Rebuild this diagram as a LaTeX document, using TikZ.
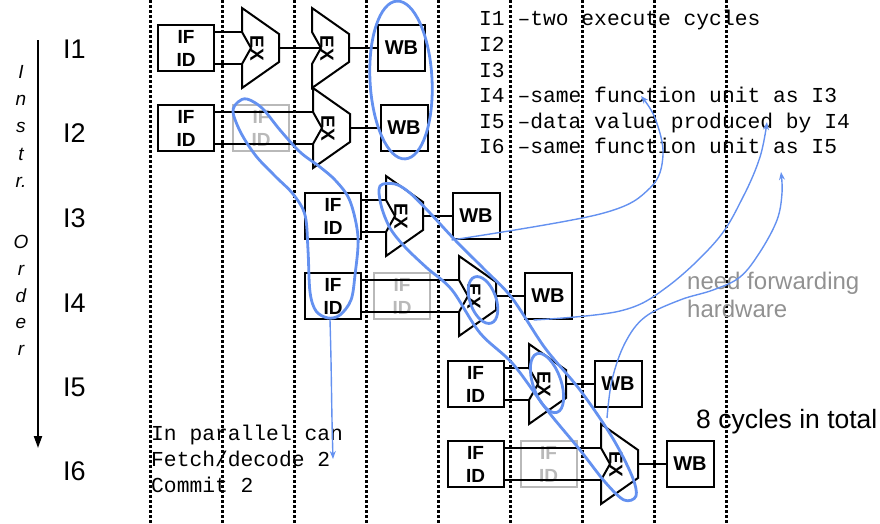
\documentclass[tikz,border=0pt]{standalone}
\usepackage{fontspec}
\setmainfont{Liberation Sans}
\setmonofont{Liberation Mono}
\usetikzlibrary{arrows.meta}
\definecolor{penblue}{RGB}{100,145,240}
\definecolor{ghostgray}{RGB}{185,185,185}
\definecolor{notegray}{RGB}{145,145,145}
\tikzset{
  stage/.style={draw, line width=2pt, minimum height=46pt, inner sep=0pt, align=center},
  ifid/.style={stage, minimum width=56pt, font=\bfseries\fontsize{19}{23}\selectfont},
  ghostbox/.style={ifid, draw=ghostgray, text=ghostgray},
  wbbox/.style={stage, minimum width=47pt, font=\bfseries\fontsize{20}{22}\selectfont},
  wire/.style={line width=2pt},
  cycleline/.style={line width=3pt, dash pattern=on 2.5pt off 2.5pt},
  rowlabel/.style={anchor=base west, inner sep=0pt, font=\fontsize{27}{27}\selectfont},
  orderletter/.style={anchor=base, inner sep=0pt, font=\itshape\fontsize{19}{19}\selectfont},
  monotext/.style={anchor=base west, inner sep=0pt, font=\ttfamily\fontsize{21.3}{25}\selectfont},
  sanstext/.style={anchor=base west, inner sep=0pt},
  pen/.style={draw=penblue, line width=2.8pt},
  thinpen/.style={draw=penblue, line width=1.4pt, -{Stealth[length=8pt,width=6pt]}},
  exunit/.pic={
    \draw[line width=2pt, line join=miter]
      (0,-40) -- (37,-14) -- (37,14) -- (0,40) -- (0,16) -- (9,0) -- (0,-16) -- cycle;
    \node[rotate=-90, inner sep=0pt, font=\bfseries\fontsize{19}{19}\selectfont] at (15,0) {EX};
    \coordinate (-in1) at (0,-16);
    \coordinate (-in2) at (0,16);
    \coordinate (-notch) at (9,0);
    \coordinate (-out) at (37,0);
  }
}
\begin{document}
\begin{tikzpicture}[x=1pt, y=-1pt]
\useasboundingbox (0,0) rectangle (880,523);

% clock-cycle boundaries
\foreach \k in {0,...,8}
  \draw[cycleline] (150+72*\k,0) -- (150+72*\k,523);

% instruction order axis
\coordinate (ordtop) at (38,40);
\coordinate (ordend) at (38,448);
\draw[line width=2pt, -{Triangle[length=12pt,width=8pt]}] (ordtop) -- (ordend);
\foreach \ch/\yy in {I/78, n/105, s/132, t/160, r./187, O/248, r/275, d/302, e/328, r/355}
  \node[orderletter] at (21,\yy) {\ch};

% row labels
\node[rowlabel] (lab1) at (63,58) {I1};
\node[rowlabel] (lab2) at (63,142) {I2};
\node[rowlabel] (lab3) at (63,227) {I3};
\node[rowlabel] (lab4) at (63,312) {I4};
\node[rowlabel] (lab5) at (63,396) {I5};
\node[rowlabel] (lab6) at (63,480) {I6};

% pipeline stages
\node[ifid] (ifA) at (186,48) {IF\\ID};
\node[ifid] (ifB) at (186,128) {IF\\ID};
\node[ifid] (ifC) at (333,216) {IF\\ID};
\node[ifid] (ifD) at (333,296) {IF\\ID};
\node[ifid] (ifE) at (475.5,384) {IF\\ID};
\node[ifid] (ifF) at (475.5,464) {IF\\ID};

\node[ghostbox] (gB) at (261,128) {IF\\ID};
\node[ghostbox] (gD) at (402,296) {IF\\ID};
\node[ghostbox] (gF) at (548.5,464) {IF\\ID};

\pic (exA) at (242,48) {exunit};
\pic (exB) at (312,48) {exunit};
\pic (exC) at (313,128) {exunit};
\pic (exD) at (386,216) {exunit};
\pic (exE) at (459,296) {exunit};
\pic (exF) at (529,384) {exunit};
\pic (exG) at (601,464) {exunit};

\node[wbbox] (wbA) at (401.5,48) {WB};
\node[wbbox] (wbB) at (404,128) {WB};
\node[wbbox] (wbC) at (476,216) {WB};
\node[wbbox] (wbD) at (548,296) {WB};
\node[wbbox] (wbE) at (618,384) {WB};
\node[wbbox] (wbF) at (690,464) {WB};

% wiring between stages
\foreach \f/\e in {ifA/exA, ifB/exC, ifC/exD, ifD/exE, ifE/exF, ifF/exG} {
  \draw[wire] (\f.east |- \e-in1) -- (\e-in1);
  \draw[wire] (\f.east |- \e-in2) -- (\e-in2);
}
\draw[wire] (exA-out) -- (exB-notch);
\draw[wire] (exB-out) -- (wbA.west);
\draw[wire] (exC-out) -- (wbB.west);
\draw[wire] (exD-out) -- (wbC.west);
\draw[wire] (exE-out) -- (wbD.west);
\draw[wire] (exF-out) -- (wbE.west);
\draw[wire] (exG-out) -- (wbF.west);

% notes
\node[monotext] (n1) at (479,25) {I1 –two execute cycles};
\node[monotext] (n2) at (479,51) {I2};
\node[monotext] (n3) at (479,77) {I3};
\node[monotext] (n4) at (479,102) {I4 –same function unit as I3};
\node[monotext] (n5) at (479,128) {I5 –data value produced by I4};
\node[monotext] (n6) at (479,153) {I6 –same function unit as I5};

\node[monotext] (p1) at (151,440) {In parallel can};
\node[monotext] (p2) at (151,466) {Fetch/decode 2};
\node[monotext] (p3) at (151,492) {Commit 2};

\node[sanstext, text=notegray, font=\fontsize{24}{24}\selectfont] (fw1) at (687,289) {need forwarding};
\node[sanstext, text=notegray, font=\fontsize{24}{24}\selectfont] (fw2) at (687,317) {hardware};
\node[sanstext, font=\fontsize{26.5}{26.5}\selectfont] (tot) at (696,428) {8 cycles in total};

% hand-drawn marks
\draw[pen, rotate around={3:(401,80)}] (401,80) ellipse [x radius=31pt, y radius=79pt];

\draw[pen] plot[smooth cycle, tension=0.55] coordinates {
  (247,99) (262,108) (280,130) (300,152) (320,167) (336,181) (350,201)
  (358,237) (355,275) (351,300) (340,315) (328,318) (316,311) (310,292)
  (308,250) (305,215) (293,194) (275,176) (256,156) (241,133) (233,112) (238,102)};

\draw[pen] plot[smooth cycle, tension=0.55] coordinates {
  (380,186) (395,184) (410,193) (430,213) (455,240) (485,270) (512,298)
  (545,348) (580,390) (612,437) (632,476) (636,496) (624,500) (605,482)
  (580,450) (547,410) (513,364) (480,333) (452,290) (427,268) (405,247)
  (390,228) (381,205)};

\draw[pen, rotate around={20:(483,300)}] (483,300) ellipse [x radius=13pt, y radius=24.5pt];
\draw[pen, rotate around={19:(547,383)}] (547,383) ellipse [x radius=14pt, y radius=31pt];

\coordinate (tipA) at (641,96);
\coordinate (tipB) at (767,122);
\coordinate (tipC) at (781,172);
\coordinate (tipD) at (333,459);
\draw[thinpen] plot[smooth, tension=0.6] coordinates {
  (wbC.south west) (600,214) (650,188) (663,155) (655,118) (tipA)};
\draw[thinpen] plot[smooth, tension=0.6] coordinates {
  ([xshift=10pt]wbD.south west) (620,311) (667,287) (717,240) (743,197) (760,157) (tipB)};
\draw[thinpen] plot[smooth, tension=0.6] coordinates {
  (607,418) (612,380) (625,343) (645,317) (680,300) (713,290) (740,277)
  (760,252) (777,220) (782,193) (tipC)};
\draw[thinpen] plot[smooth, tension=0.6] coordinates {
  (330,320) (331,360) (332,420) (tipD)};
\end{tikzpicture}
\end{document}
